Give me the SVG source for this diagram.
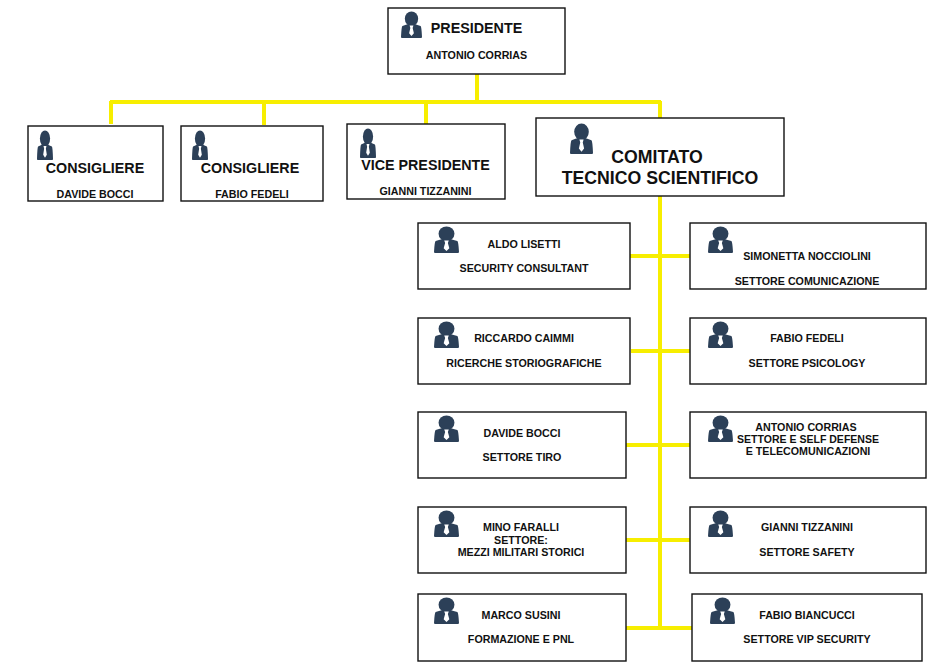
<svg xmlns="http://www.w3.org/2000/svg" width="928" height="663" viewBox="0 0 928 663">
<style>
.b{fill:#fff;stroke:#111;stroke-width:1.4}
.c{stroke:#f7ee00;stroke-width:4;fill:none}
text{font-family:"Liberation Sans",Arial,sans-serif;font-weight:700;fill:#111;text-anchor:middle}
.s{font-size:10.7px}
.m{font-size:14.3px}
.l{font-size:17.7px}
</style>
<defs>
<symbol id="p" viewBox="0 0 22 28" preserveAspectRatio="none">
<ellipse cx="11" cy="8" rx="7" ry="7.6" fill="#2c4058"/>
<path d="M1.5 15.5Q6 14 7.5 13.5L14.5 13.5Q17 14.5 20.5 15.5Q21.5 16 22 27Q22 28 21 28L1 28Q0 28 0 27Q.5 16 1.5 15.5Z" fill="#2c4058"/>
<path d="M9 15L13 15L12.2 17.5L13.5 23L11 26L8.5 23L9.8 17.5Z" fill="#fff"/>
</symbol>
</defs>
<rect width="928" height="663" fill="#fff"/>
<g id="connectors">
<path class="c" d="M477 74V102M110 102H661M111 101V124M264 101V125M426 101V124M660 101V118M660 196V628"/>
<path class="c" d="M629 256H690M631 351H690M626 445H690M626 540H690M626 628H692"/>
</g>
<g id="presidente"><rect class="b" x="388" y="8" width="177" height="66"/><use href="#p" x="401" y="11" width="21" height="27"/><text class="m" x="476.500" y="33">PRESIDENTE</text><text class="s" x="476.500" y="59">ANTONIO CORRIAS</text></g>
<g id="consigliere1"><rect class="b" x="28" y="126" width="135" height="75"/><use href="#p" x="37" y="130" width="16" height="30"/><text class="m" x="95" y="173">CONSIGLIERE</text><text class="s" x="95" y="198">DAVIDE BOCCI</text></g>
<g id="consigliere2"><rect class="b" x="181" y="126" width="142" height="75"/><use href="#p" x="192" y="130" width="16" height="30"/><text class="m" x="250" y="173">CONSIGLIERE</text><text class="s" x="252" y="198">FABIO FEDELI</text></g>
<g id="vicepresidente"><rect class="b" x="347" y="124" width="158" height="75"/><use href="#p" x="360" y="128" width="16" height="30"/><text class="m" x="425.500" y="170">VICE PRESIDENTE</text><text class="s" x="425.500" y="195">GIANNI TIZZANINI</text></g>
<g id="comitato"><rect class="b" x="536" y="118" width="248" height="78"/><use href="#p" x="570" y="123" width="23" height="31"/><text class="l" x="657" y="163">COMITATO</text><text class="l" x="660" y="184">TECNICO SCIENTIFICO</text></g>
<g id="lisetti"><rect class="b" x="418" y="223" width="212" height="66"/><use href="#p" x="434" y="226" width="25" height="27"/><text class="s" x="524" y="248">ALDO LISETTI</text><text class="s" x="524" y="272">SECURITY CONSULTANT</text></g>
<g id="nocciolini"><rect class="b" x="690" y="223" width="236" height="66"/><use href="#p" x="708" y="226" width="25" height="27"/><text class="s" x="807" y="260">SIMONETTA NOCCIOLINI</text><text class="s" x="807" y="285">SETTORE COMUNICAZIONE</text></g>
<g id="caimmi"><rect class="b" x="418" y="318" width="212" height="66"/><use href="#p" x="434" y="321" width="25" height="27"/><text class="s" x="524" y="342">RICCARDO CAIMMI</text><text class="s" x="524" y="367">RICERCHE STORIOGRAFICHE</text></g>
<g id="fedeli"><rect class="b" x="690" y="318" width="236" height="66"/><use href="#p" x="708" y="321" width="25" height="27"/><text class="s" x="807" y="342">FABIO FEDELI</text><text class="s" x="807" y="367">SETTORE PSICOLOGY</text></g>
<g id="bocci"><rect class="b" x="418" y="412" width="208" height="66"/><use href="#p" x="434" y="415" width="25" height="27"/><text class="s" x="522" y="437">DAVIDE BOCCI</text><text class="s" x="522" y="461">SETTORE TIRO</text></g>
<g id="corrias"><rect class="b" x="690" y="412" width="236" height="66"/><use href="#p" x="708" y="415" width="25" height="27"/><text class="s" x="806" y="431">ANTONIO CORRIAS</text><text class="s" x="808" y="443" textLength="142" lengthAdjust="spacingAndGlyphs">SETTORE E SELF DEFENSE</text><text class="s" x="808" y="455">E TELECOMUNICAZIONI</text></g>
<g id="faralli"><rect class="b" x="418" y="507" width="208" height="66"/><use href="#p" x="434" y="510" width="25" height="27"/><text class="s" x="521" y="531">MINO FARALLI</text><text class="s" x="521" y="544">SETTORE:</text><text class="s" x="521" y="556">MEZZI MILITARI STORICI</text></g>
<g id="tizzanini"><rect class="b" x="690" y="507" width="236" height="66"/><use href="#p" x="708" y="510" width="25" height="27"/><text class="s" x="807" y="531">GIANNI TIZZANINI</text><text class="s" x="807" y="556">SETTORE SAFETY</text></g>
<g id="susini"><rect class="b" x="418" y="594" width="208" height="67"/><use href="#p" x="434" y="597" width="25" height="27"/><text class="s" x="521" y="619">MARCO SUSINI</text><text class="s" x="521" y="643">FORMAZIONE E PNL</text></g>
<g id="biancucci"><rect class="b" x="692" y="594" width="230" height="67"/><use href="#p" x="710" y="597" width="25" height="27"/><text class="s" x="807" y="619">FABIO BIANCUCCI</text><text class="s" x="807" y="643">SETTORE VIP SECURITY</text></g>
</svg>
